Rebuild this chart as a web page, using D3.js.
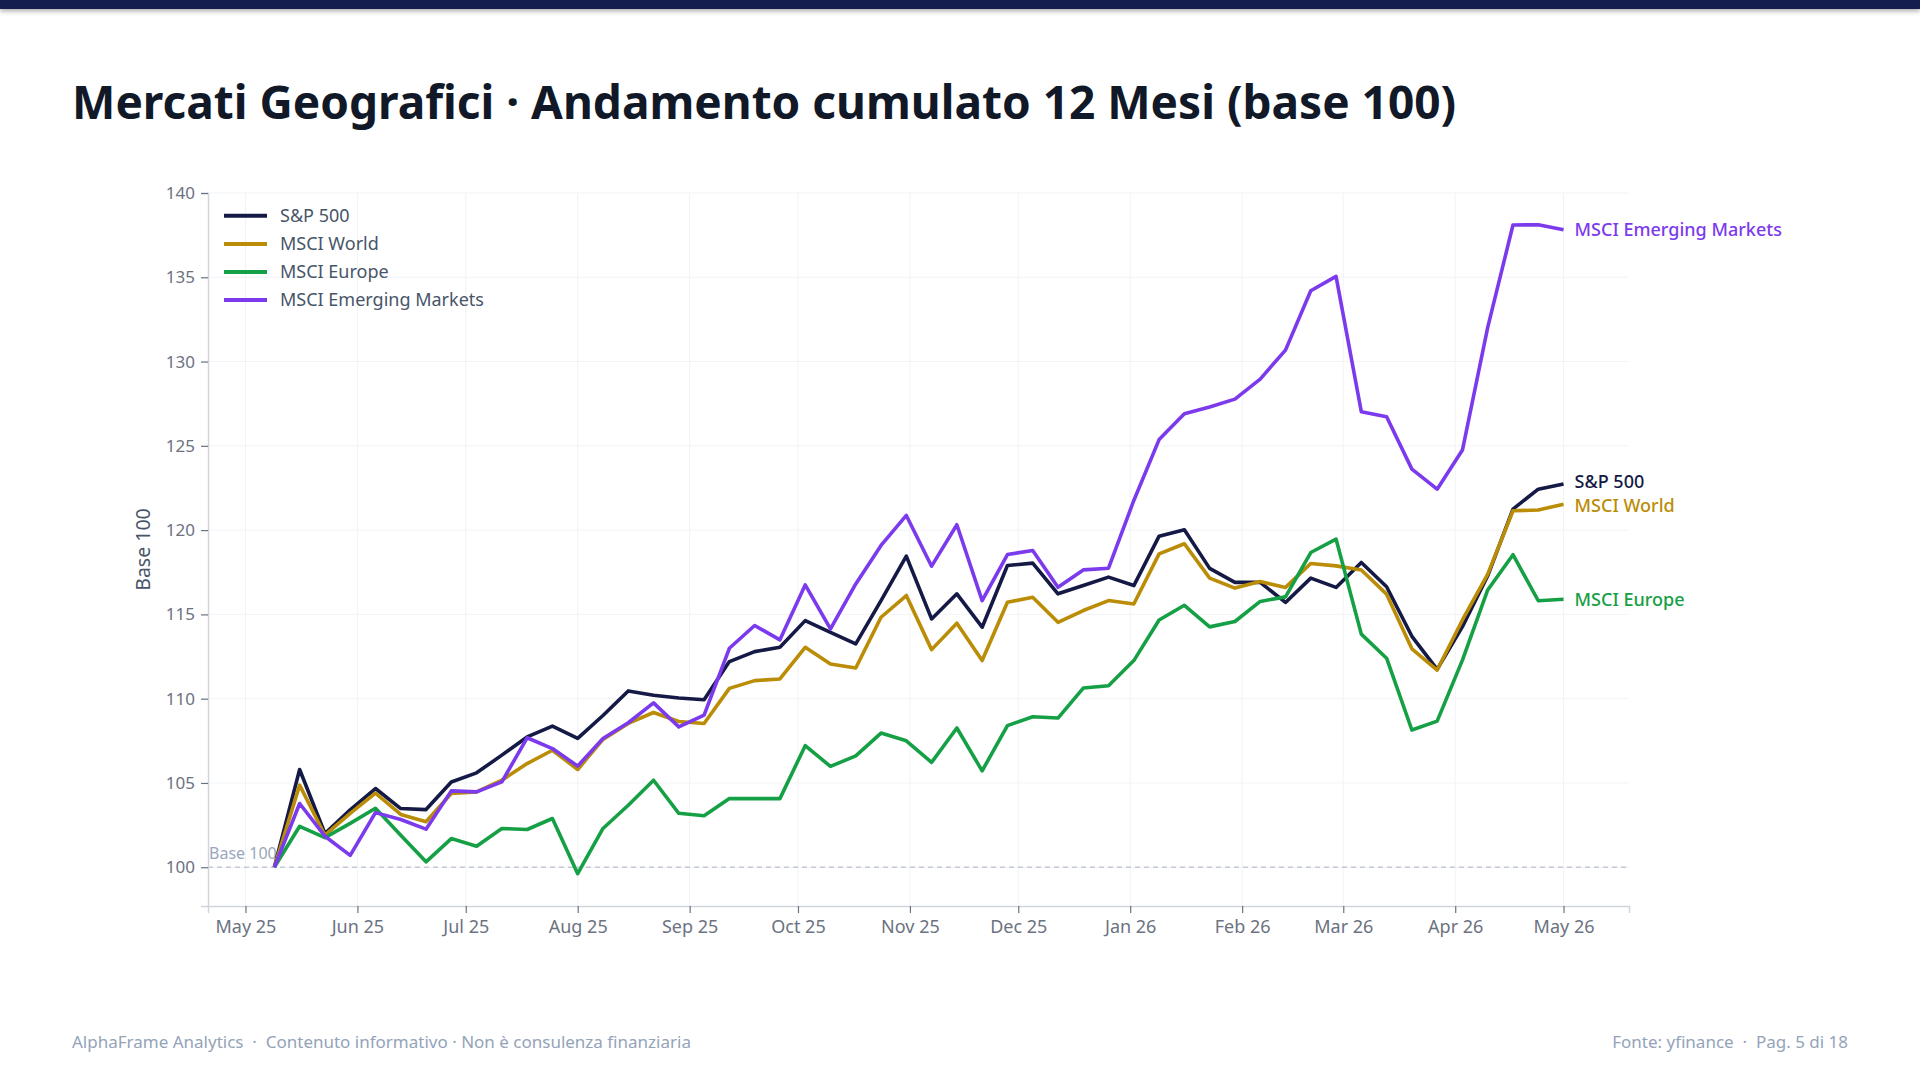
<!DOCTYPE html>
<html>
<head>
<meta charset="utf-8">
<script src="https://cdn.jsdelivr.net/npm/d3@7"></script>
<style>
  html, body { margin: 0; padding: 0; background: #ffffff; }
  body { width: 1920px; height: 1080px; overflow: hidden; font-family: "Segoe UI", "Noto Sans", sans-serif; }
  .topbar { position: absolute; left: 0; top: 0; width: 1920px; height: 9px; background: #151f4f; box-shadow: 0 2px 5px rgba(0,0,0,0.35); }
</style>
</head>
<body>
<div class="topbar"></div>
<div id="chart"></div>
<script>
// weekly closes, rebased to 100
var dates = ["2025-05-09","2025-05-16","2025-05-23","2025-05-30","2025-06-06","2025-06-13","2025-06-20","2025-06-27",
  "2025-07-04","2025-07-11","2025-07-18","2025-07-25","2025-08-01","2025-08-08","2025-08-15","2025-08-22","2025-08-29",
  "2025-09-05","2025-09-12","2025-09-19","2025-09-26","2025-10-03","2025-10-10","2025-10-17","2025-10-24","2025-10-31",
  "2025-11-07","2025-11-14","2025-11-21","2025-11-28","2025-12-05","2025-12-12","2025-12-19","2025-12-26",
  "2026-01-02","2026-01-09","2026-01-16","2026-01-23","2026-01-30","2026-02-06","2026-02-13","2026-02-20","2026-02-27",
  "2026-03-06","2026-03-13","2026-03-20","2026-03-27","2026-04-03","2026-04-10","2026-04-17","2026-04-24","2026-05-01"];

var sp500 = [100, 105.8, 102.0, 103.4, 104.67, 103.48, 103.42, 105.06, 105.6, 106.65, 107.73, 108.37, 107.64, 109.0,
  110.46, 110.2, 110.04, 109.94, 112.2, 112.79, 113.05, 114.63, 113.94, 113.25, 115.82, 118.46, 114.73, 116.22,
  114.24, 117.9, 118.04, 116.22, 116.71, 117.21, 116.71, 119.64, 120.02, 117.73, 116.9, 116.9, 115.71, 117.15,
  116.6, 118.08, 116.64, 113.7, 111.74, 114.27, 117.29, 121.25, 122.43, 122.73];

var msciWorld = [100, 104.87, 101.9, 103.2, 104.4, 103.13, 102.7, 104.37, 104.47, 105.16, 106.15, 106.94, 105.8, 107.58,
  108.53, 109.18, 108.65, 108.53, 110.61, 111.07, 111.17, 113.05, 112.06, 111.82, 114.83, 116.12, 112.91, 114.48,
  112.26, 115.72, 116.02, 114.53, 115.23, 115.82, 115.62, 118.59, 119.19, 117.15, 116.56, 116.95, 116.6, 118.02,
  117.88, 117.63, 116.2, 112.96, 111.7, 114.67, 117.39, 121.15, 121.19, 121.54];

var msciEurope = [100, 102.43, 101.76, 102.6, 103.5, 101.9, 100.32, 101.7, 101.25, 102.3, 102.24, 102.89, 99.62, 102.3,
  103.68, 105.16, 103.2, 103.05, 104.08, 104.07, 104.07, 107.21, 105.98, 106.61, 107.96, 107.5, 106.22, 108.26,
  105.72, 108.4, 108.93, 108.85, 110.63, 110.77, 112.26, 114.67, 115.54, 114.26, 114.58, 115.77, 116.04, 118.67,
  119.47, 113.83, 112.4, 108.14, 108.67, 112.29, 116.45, 118.54, 115.81, 115.9];

var msciEM = [100, 103.78, 101.84, 100.7, 103.24, 102.83, 102.26, 104.53, 104.47, 105.06, 107.68, 107.04, 106.0, 107.64,
  108.57, 109.75, 108.33, 109.03, 112.99, 114.34, 113.49, 116.75, 114.14, 116.81, 119.09, 120.87, 117.86, 120.32,
  115.82, 118.55, 118.79, 116.61, 117.64, 117.74, 121.76, 125.37, 126.9, 127.3, 127.77, 128.96, 130.68, 134.2,
  135.05, 127.02, 126.73, 123.62, 122.43, 124.75, 132.03, 138.1, 138.12, 137.82];

var seriesNames = ["S&P 500", "MSCI World", "MSCI Europe", "MSCI Emerging Markets"];
var seriesColors = ["#141a45", "#bb8c06", "#16a045", "#7c3aed"];
var yTicks = [100, 105, 110, 115, 120, 125, 130, 135, 140];

var parseDate = d3.timeParse("%Y-%m-%d");
var allSeries = [sp500, msciWorld, msciEurope, msciEM].map(function(vals, i) {
  return {
    name: seriesNames[i],
    color: seriesColors[i],
    values: vals.map(function(v, j) { return { date: parseDate(dates[j]), value: v }; })
  };
});

var svgWidth = 1920;
var svgHeight = 1080;
var margin = { top: 193, right: 291, bottom: 174, left: 208 };
var width = svgWidth - margin.left - margin.right;
var height = svgHeight - margin.top - margin.bottom;

var svg = d3.select("#chart")
  .append("svg")
  .attr("width", svgWidth)
  .attr("height", svgHeight)
  .style("position", "absolute")
  .style("left", 0)
  .style("top", 0);

// title
svg.append("text")
  .attr("x", 72)
  .attr("y", 119)
  .attr("font-size", 46)
  .attr("font-weight", 700)
  .attr("fill", "#111827")
  .text("Mercati Geografici · Andamento cumulato 12 Mesi (base 100)");

var chartGroup = svg.append("g")
  .attr("transform", `translate(${margin.left}, ${margin.top})`);

var xScale = d3.scaleTime()
  .domain([new Date(2025, 3, 20, 15), new Date(2026, 4, 19, 3)])
  .range([0, width]);

var yScale = d3.scaleLinear()
  .domain([97.7, 140])
  .range([height, 0]);

var monthTicks = d3.timeMonth.range(new Date(2025, 4, 1), new Date(2026, 4, 2));

// grid
chartGroup.append("g")
  .selectAll("line")
  .data(yTicks)
  .enter()
  .append("line")
  .attr("x1", 0).attr("x2", width)
  .attr("y1", d => yScale(d)).attr("y2", d => yScale(d))
  .attr("stroke", "#f1f3f6").attr("stroke-width", 1);

chartGroup.append("g")
  .selectAll("line")
  .data(monthTicks)
  .enter()
  .append("line")
  .attr("x1", d => xScale(d)).attr("x2", d => xScale(d))
  .attr("y1", yScale(140)).attr("y2", height)
  .attr("stroke", "#f1f3f6").attr("stroke-width", 1);

// base 100 reference
chartGroup.append("line")
  .attr("x1", 0).attr("x2", width)
  .attr("y1", yScale(100)).attr("y2", yScale(100))
  .attr("stroke", "#c3cad6")
  .attr("stroke-width", 1.3)
  .attr("stroke-dasharray", "5,4");

chartGroup.append("text")
  .attr("x", 1)
  .attr("y", yScale(100) - 8)
  .attr("font-size", 16)
  .attr("fill", "#9aa6bb")
  .text("Base 100");

// axes
var bottomAxis = d3.axisBottom(xScale)
  .tickValues(monthTicks)
  .tickFormat(d3.timeFormat("%b %y"))
  .tickSizeOuter(0)
  .tickSize(7)
  .tickPadding(7);

var leftAxis = d3.axisLeft(yScale)
  .tickValues(yTicks)
  .tickSizeOuter(0)
  .tickSize(7)
  .tickPadding(6);

var xAxisG = chartGroup.append("g")
  .attr("transform", `translate(0, ${height})`)
  .call(bottomAxis);

var yAxisG = chartGroup.append("g")
  .call(leftAxis);

[xAxisG, yAxisG].forEach(function(g) {
  g.select(".domain").attr("stroke", "#cfd5de").attr("stroke-width", 1.5);
  g.selectAll(".tick line").attr("stroke", "#6b7280").attr("stroke-width", 1.2);
  g.selectAll(".tick text")
    .attr("fill", "#6b7280")
    .style("font-size", "17px")
    .style("font-family", "'Segoe UI', 'Noto Sans', sans-serif");
});
xAxisG.selectAll(".tick text").style("font-size", "18px");

// lines
var line = d3.line()
  .x(d => xScale(d.date))
  .y(d => yScale(d.value));

chartGroup.selectAll(".series")
  .data(allSeries)
  .enter()
  .append("path")
  .attr("class", "series")
  .attr("d", d => line(d.values))
  .attr("fill", "none")
  .attr("stroke", d => d.color)
  .attr("stroke-width", 3.6)
  .attr("stroke-linejoin", "round");

// end labels (S&P and World sit close together, nudge them apart a touch)
var labelNudge = [-2, 2, 0, 0];
chartGroup.selectAll(".endLabel")
  .data(allSeries)
  .enter()
  .append("text")
  .attr("class", "endLabel")
  .attr("x", d => xScale(d.values[d.values.length - 1].date) + 11)
  .attr("y", (d, i) => yScale(d.values[d.values.length - 1].value) + labelNudge[i])
  .attr("dy", "0.35em")
  .attr("font-size", 18)
  .attr("font-weight", 500)
  .attr("fill", d => d.color)
  .text(d => d.name);

// legend
var legend = chartGroup.selectAll(".legend")
  .data(allSeries)
  .enter()
  .append("g")
  .attr("class", "legend")
  .attr("transform", (d, i) => `translate(16, ${22.8 + i * 28.1})`);

legend.append("line")
  .attr("x1", 0).attr("x2", 43)
  .attr("stroke", d => d.color)
  .attr("stroke-width", 4);

legend.append("text")
  .attr("x", 56)
  .attr("dy", "0.35em")
  .attr("font-size", 18)
  .attr("fill", "#475569")
  .text(d => d.name);

// y axis title
svg.append("text")
  .attr("transform", `translate(143, ${margin.top + height / 2}) rotate(-90)`)
  .attr("text-anchor", "middle")
  .attr("dy", "0.35em")
  .attr("font-size", 19.5)
  .attr("fill", "#475569")
  .text("Base 100");

// footer
svg.append("text")
  .attr("x", 72)
  .attr("y", 1048)
  .attr("font-size", 17)
  .attr("fill", "#94a3b8")
  .text("AlphaFrame Analytics  ·  Contenuto informativo · Non è consulenza finanziaria")
  .style("white-space", "pre");

svg.append("text")
  .attr("x", 1848)
  .attr("y", 1048)
  .attr("text-anchor", "end")
  .attr("font-size", 17)
  .attr("fill", "#94a3b8")
  .text("Fonte: yfinance  ·  Pag. 5 di 18")
  .style("white-space", "pre");
</script>
</body>
</html>
